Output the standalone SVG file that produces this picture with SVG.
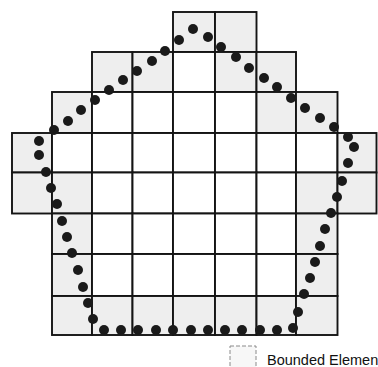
<svg xmlns="http://www.w3.org/2000/svg" width="378" height="367" viewBox="0 0 378 367">
  <style>
    .b { fill: #eeeeee; stroke: #141414; stroke-width: 1.9; }
    .w { fill: #ffffff; stroke: #141414; stroke-width: 1.9; }
    .d { fill: #1a1a1a; }
    .lg { fill: #f7f7f7; stroke: #8a8a8a; stroke-width: 1; stroke-dasharray: 4 2; }
    .t { font-family: "Liberation Sans", Arial, sans-serif; font-size: 14.5px; fill: #111; }
  </style>
  <rect width="378" height="367" fill="#ffffff"/>
  <g id="grid">
    <g id="row0">
      <rect class="b" x="173" y="12" width="42" height="40"/>
      <rect class="b" x="215" y="12" width="41.5" height="40"/>
    </g>
    <g id="row1">
      <rect class="b" x="92" y="52" width="40.5" height="40"/>
      <rect class="b" x="132.5" y="52" width="40.5" height="40"/>
      <rect class="w" x="173" y="52" width="42" height="40"/>
      <rect class="b" x="215" y="52" width="41.5" height="40"/>
      <rect class="b" x="256.5" y="52" width="39.5" height="40"/>
    </g>
    <g id="row2">
      <rect class="b" x="52" y="92" width="40" height="41"/>
      <rect class="w" x="92" y="92" width="40.5" height="41"/>
      <rect class="w" x="132.5" y="92" width="40.5" height="41"/>
      <rect class="w" x="173" y="92" width="42" height="41"/>
      <rect class="w" x="215" y="92" width="41.5" height="41"/>
      <rect class="b" x="256.5" y="92" width="39.5" height="41"/>
      <rect class="b" x="296" y="92" width="41.5" height="41"/>
    </g>
    <g id="row3">
      <rect class="b" x="12" y="133" width="40" height="39.5"/>
      <rect class="w" x="52" y="133" width="40" height="39.5"/>
      <rect class="w" x="92" y="133" width="40.5" height="39.5"/>
      <rect class="w" x="132.5" y="133" width="40.5" height="39.5"/>
      <rect class="w" x="173" y="133" width="42" height="39.5"/>
      <rect class="w" x="215" y="133" width="41.5" height="39.5"/>
      <rect class="w" x="256.5" y="133" width="39.5" height="39.5"/>
      <rect class="w" x="296" y="133" width="41.5" height="39.5"/>
      <rect class="b" x="337.5" y="133" width="39" height="39.5"/>
    </g>
    <g id="row4">
      <rect class="b" x="12" y="172.5" width="40" height="41"/>
      <rect class="b" x="52" y="172.5" width="40" height="41"/>
      <rect class="w" x="92" y="172.5" width="40.5" height="41"/>
      <rect class="w" x="132.5" y="172.5" width="40.5" height="41"/>
      <rect class="w" x="173" y="172.5" width="42" height="41"/>
      <rect class="w" x="215" y="172.5" width="41.5" height="41"/>
      <rect class="w" x="256.5" y="172.5" width="39.5" height="41"/>
      <rect class="b" x="296" y="172.5" width="41.5" height="41"/>
      <rect class="b" x="337.5" y="172.5" width="39" height="41"/>
    </g>
    <g id="row5">
      <rect class="b" x="52" y="213.5" width="40" height="40.5"/>
      <rect class="w" x="92" y="213.5" width="40.5" height="40.5"/>
      <rect class="w" x="132.5" y="213.5" width="40.5" height="40.5"/>
      <rect class="w" x="173" y="213.5" width="42" height="40.5"/>
      <rect class="w" x="215" y="213.5" width="41.5" height="40.5"/>
      <rect class="w" x="256.5" y="213.5" width="39.5" height="40.5"/>
      <rect class="b" x="296" y="213.5" width="41.5" height="40.5"/>
    </g>
    <g id="row6">
      <rect class="b" x="52" y="254" width="40" height="42"/>
      <rect class="w" x="92" y="254" width="40.5" height="42"/>
      <rect class="w" x="132.5" y="254" width="40.5" height="42"/>
      <rect class="w" x="173" y="254" width="42" height="42"/>
      <rect class="w" x="215" y="254" width="41.5" height="42"/>
      <rect class="w" x="256.5" y="254" width="39.5" height="42"/>
      <rect class="b" x="296" y="254" width="41.5" height="42"/>
    </g>
    <g id="row7">
      <rect class="b" x="52" y="296" width="40" height="39"/>
      <rect class="b" x="92" y="296" width="40.5" height="39"/>
      <rect class="b" x="132.5" y="296" width="40.5" height="39"/>
      <rect class="b" x="173" y="296" width="42" height="39"/>
      <rect class="b" x="215" y="296" width="41.5" height="39"/>
      <rect class="b" x="256.5" y="296" width="39.5" height="39"/>
      <rect class="b" x="296" y="296" width="41.5" height="39"/>
    </g>
  </g>
  <g id="boundary-points">
    <circle class="d" cx="193" cy="29" r="5"/>
    <circle class="d" cx="179" cy="40" r="5"/>
    <circle class="d" cx="165" cy="51" r="5"/>
    <circle class="d" cx="152" cy="61" r="5"/>
    <circle class="d" cx="137" cy="71" r="5"/>
    <circle class="d" cx="123" cy="80" r="5"/>
    <circle class="d" cx="109" cy="90" r="5"/>
    <circle class="d" cx="95" cy="100" r="5"/>
    <circle class="d" cx="81" cy="110" r="5"/>
    <circle class="d" cx="68" cy="121" r="5"/>
    <circle class="d" cx="54" cy="130" r="5"/>
    <circle class="d" cx="39" cy="141" r="5"/>
    <circle class="d" cx="39" cy="155" r="5"/>
    <circle class="d" cx="46" cy="172" r="5"/>
    <circle class="d" cx="51" cy="188" r="5"/>
    <circle class="d" cx="57" cy="204" r="5"/>
    <circle class="d" cx="62" cy="221" r="5"/>
    <circle class="d" cx="67" cy="237" r="5"/>
    <circle class="d" cx="72" cy="253" r="5"/>
    <circle class="d" cx="78" cy="270" r="5"/>
    <circle class="d" cx="83" cy="287" r="5"/>
    <circle class="d" cx="88" cy="303" r="5"/>
    <circle class="d" cx="93" cy="319" r="5"/>
    <circle class="d" cx="104" cy="330" r="5"/>
    <circle class="d" cx="121" cy="330" r="5"/>
    <circle class="d" cx="138" cy="330" r="5"/>
    <circle class="d" cx="156" cy="330" r="5"/>
    <circle class="d" cx="173" cy="330" r="5"/>
    <circle class="d" cx="191" cy="330" r="5"/>
    <circle class="d" cx="208" cy="330" r="5"/>
    <circle class="d" cx="225" cy="330" r="5"/>
    <circle class="d" cx="242" cy="330" r="5"/>
    <circle class="d" cx="260" cy="330" r="5"/>
    <circle class="d" cx="277" cy="330" r="5"/>
    <circle class="d" cx="293" cy="328" r="5"/>
    <circle class="d" cx="298" cy="312" r="5"/>
    <circle class="d" cx="304" cy="294" r="5"/>
    <circle class="d" cx="310" cy="278" r="5"/>
    <circle class="d" cx="315" cy="262" r="5"/>
    <circle class="d" cx="320" cy="246" r="5"/>
    <circle class="d" cx="325" cy="229" r="5"/>
    <circle class="d" cx="331" cy="213" r="5"/>
    <circle class="d" cx="337" cy="197" r="5"/>
    <circle class="d" cx="342" cy="181" r="5"/>
    <circle class="d" cx="348" cy="163" r="5"/>
    <circle class="d" cx="354" cy="147" r="5"/>
    <circle class="d" cx="348" cy="137" r="5"/>
    <circle class="d" cx="334" cy="127" r="5"/>
    <circle class="d" cx="320" cy="118" r="5"/>
    <circle class="d" cx="305" cy="108" r="5"/>
    <circle class="d" cx="291" cy="98" r="5"/>
    <circle class="d" cx="277" cy="87" r="5"/>
    <circle class="d" cx="264" cy="78" r="5"/>
    <circle class="d" cx="249" cy="68" r="5"/>
    <circle class="d" cx="236" cy="57" r="5"/>
    <circle class="d" cx="221" cy="47" r="5"/>
    <circle class="d" cx="208" cy="37" r="5"/>
  </g>
  <g id="legend">
    <rect class="lg" x="230" y="346" width="26" height="26"/>
    <text class="t" x="267" y="365">Bounded Elemen</text>
  </g>
</svg>
